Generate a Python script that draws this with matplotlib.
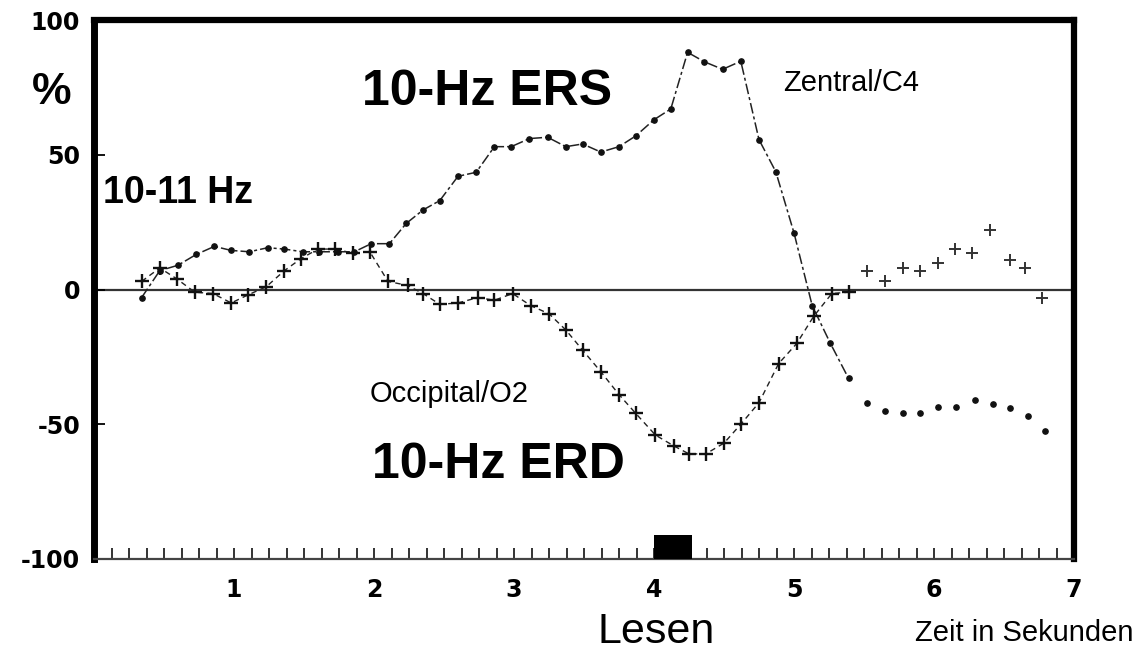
import matplotlib
matplotlib.use("Agg")
from matplotlib import pyplot as plt
from matplotlib.ticker import MultipleLocator

plt.rcParams['font.family'] = ['Liberation Sans', 'DejaVu Sans']
plt.rcParams['axes.unicode_minus'] = False

# Zentral/C4 (dots) - 10-Hz ERS
c4_time = [0.34, 0.47, 0.60, 0.73, 0.86, 0.98, 1.11, 1.24, 1.36, 1.49, 1.61, 1.74,
           1.86, 1.98, 2.11, 2.23, 2.35, 2.47, 2.60, 2.73, 2.86, 2.98, 3.11, 3.24,
           3.37, 3.49, 3.62, 3.75, 3.87, 4.00, 4.12, 4.24, 4.36, 4.49, 4.62, 4.75,
           4.87, 5.00, 5.13, 5.26, 5.39, 5.52, 5.65, 5.78, 5.90, 6.03, 6.16, 6.29,
           6.42, 6.54, 6.67, 6.79]
c4_value = [-3, 7, 9, 13, 16, 14.5, 14, 15.5, 15, 14, 14, 14,
            14, 17, 17, 24.5, 29.5, 33, 42, 43.5, 53, 53, 56, 56.5,
            53, 54, 51, 53, 57, 63, 67, 88, 84.5, 81.7, 84.7, 55.6,
            43.7, 21, -6, -20, -33, -42, -45, -46, -46, -43.5, -43.5, -41,
            -42.5, -44, -47, -52.5]

# Occipital/O2 (crosses) - 10-Hz ERD
o2_time = [0.34, 0.47, 0.59, 0.72, 0.85, 0.98, 1.10, 1.23, 1.36, 1.48, 1.60, 1.72,
           1.85, 1.97, 2.10, 2.24, 2.35, 2.47, 2.60, 2.74, 2.86, 2.99, 3.12, 3.25,
           3.37, 3.49, 3.62, 3.75, 3.87, 4.01, 4.14, 4.25, 4.37, 4.50, 4.62, 4.75,
           4.89, 5.02, 5.14, 5.27, 5.39, 5.52, 5.65, 5.78, 5.90, 6.03, 6.15, 6.27,
           6.40, 6.54, 6.65, 6.77]
o2_value = [3, 8, 4, -1, -1.5, -5, -2, 1, 7, 11.5, 15, 15,
            13.5, 14, 3, 1.5, -1.5, -5.5, -5, -3, -4, -1.5, -6, -9,
            -15, -22.5, -30.5, -39, -46, -54, -58, -61, -61, -57, -50, -42,
            -27.5, -20, -10, -1.5, -1, 7, 3, 8, 7, 10, 15, 13.5,
            22, 11, 8, -3]

# stimulus bar (Lesen)
stim_start, stim_end, stim_top = 4.0, 4.27, -91

yticks = [-100, -50, 0, 50, 100]
ytick_labels = ['-100', '-50', '0', '50', '100']
xticks = [1, 2, 3, 4, 5, 6, 7]

W, H = 1143, 651
fig = plt.figure(figsize=(W / 100, H / 100), dpi=100)
ax = fig.add_axes([94 / W, 1 - 559 / H, 980 / W, 539 / H])

line_end = 5.4
n_c4 = sum(1 for t in c4_time if t <= line_end)
n_o2 = sum(1 for t in o2_time if t <= line_end)

ax.axhline(0, color='#333333', lw=1.6, zorder=1)

ax.plot(c4_time[:n_c4], c4_value[:n_c4], color='#222222', lw=1.1,
        dashes=(7, 2, 2, 2), zorder=2)
ax.plot(c4_time, c4_value, 'o', color='#111111', ms=3.8, zorder=3)

ax.plot(o2_time[:n_o2], o2_value[:n_o2], color='#222222', lw=1.0,
        dashes=(4, 3), zorder=2)
ax.plot(o2_time[:n_o2], o2_value[:n_o2], '+', color='#111111', ms=10, mew=1.7, zorder=3)
ax.plot(o2_time[n_o2:], o2_value[n_o2:], '+', color='#333333', ms=9, mew=1.4, zorder=3)

ax.bar(stim_start, stim_top + 100, width=stim_end - stim_start, bottom=-100,
       align='edge', color='black', zorder=4)

ax.set_xlim(0, 7)
ax.set_ylim(-100, 100)
ax.set_xticks(xticks)
ax.set_xticklabels([str(x) for x in xticks])
ax.xaxis.set_minor_locator(MultipleLocator(0.125))
ax.set_yticks(yticks)
ax.set_yticklabels(ytick_labels)

ax.tick_params(axis='x', which='both', direction='in', length=8, width=1.4,
               color='#333333', pad=14, labelsize=17)
ax.tick_params(axis='y', which='major', direction='in', length=8, width=1.3,
               pad=10, labelsize=17)
for lab in ax.get_xticklabels() + ax.get_yticklabels():
    lab.set_family('DejaVu Sans')
    lab.set_fontweight('bold')

ax.spines['left'].set_linewidth(5)
ax.spines['top'].set_linewidth(4.5)
ax.spines['right'].set_linewidth(4.5)
ax.spines['bottom'].set_linewidth(1.6)
ax.spines['bottom'].set_color('#444444')


def ftext(x, y, s, **kw):
    fig.text(x / W, 1 - y / H, s, **kw)


ftext(52, 92, '%', fontsize=32, fontweight='bold', ha='center', va='center')
ftext(103, 203, '10-11 Hz', fontsize=27, fontweight='bold', va='baseline')
ftext(362, 105, '10-Hz ERS', fontsize=36, fontweight='bold', va='baseline')
ftext(372, 478, '10-Hz ERD', fontsize=36, fontweight='bold', va='baseline')
ftext(783, 91, 'Zentral/C4', fontsize=21, va='baseline')
ftext(370, 402, 'Occipital/O2', fontsize=21, va='baseline')
ftext(598, 643, 'Lesen', fontsize=31, va='baseline')
ftext(915, 641, 'Zeit in Sekunden', fontsize=21, va='baseline')

fig.savefig('out.png', dpi=100)
